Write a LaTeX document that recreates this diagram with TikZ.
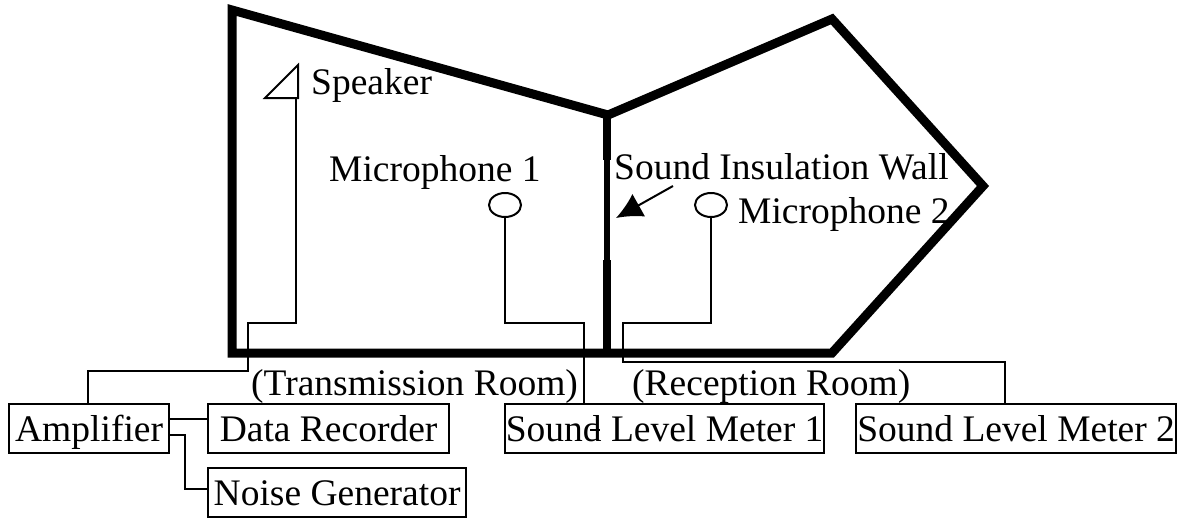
\documentclass[tikz,border=0pt]{standalone}
\usepackage{fontspec}
\setmainfont{Liberation Serif}
\tikzset{
 boxn/.style={draw,line width=2.2pt,inner sep=0pt,minimum height=49pt,anchor=north west,font=\fontsize{37.5}{40}\selectfont,text height=25pt,text depth=0pt},
 lab/.style={inner sep=0pt,anchor=base west,font=\fontsize{37.5}{40}\selectfont},
 wire/.style={line width=2pt,line join=miter},
 wall/.style={line width=9pt,line join=miter},
 mic/.style={draw,line width=2pt,ellipse,minimum width=32pt,minimum height=24pt,inner sep=0pt}
}
\usetikzlibrary{shapes.geometric,arrows.meta}
\begin{document}
\begin{tikzpicture}[x=1pt,y=-1pt]
\useasboundingbox (0,0) rectangle (1183,517);
% room outline
\coordinate (r1) at (232,10);
\coordinate (r2) at (608,115);
\coordinate (r3) at (832,19);
\coordinate (r4) at (983,186);
\coordinate (r5) at (832,353);
\coordinate (r6) at (232,353);
\coordinate (w1) at (607,160);
\coordinate (w2) at (607,260);
\coordinate (w3) at (607,353);
\draw[wall] (r1) -- (r2) -- (r3) -- (r4) -- (r5) -- (r6) -- cycle;
\draw[line width=8pt] (r2) ++(-1,0) -- (w1);
\draw[line width=5.5pt] (w1) -- (w2);
\draw[line width=8pt] (w2) -- (w3);
% boxes
\node[boxn,minimum width=160pt] (amp) at (8,403) {Amplifier};
\node[boxn,minimum width=241pt] (rec) at (207,403) {Data Recorder};
\node[boxn,minimum width=258pt] (noise) at (207,467) {Noise Generator};
\node[boxn,minimum width=319pt] (m1) at (504,403) {Sound Level Meter 1};
\node[boxn,minimum width=320pt] (m2) at (855,403) {Sound Level Meter 2};
% microphones
\node[mic] (mc1) at (505,205) {};
\node[mic] (mc2) at (711,205) {};
% speaker
\coordinate (s1) at (298,65);
\coordinate (s2) at (265,98);
\coordinate (s3) at (298,98);
\draw[wire] (s1) -- (s2) -- (s3) -- cycle;
\coordinate (sa) at (296,323);
\coordinate (sb) at (248,323);
\coordinate (sc) at (248,371);
\coordinate (sd) at (88,371);
\draw[wire] (296,98) -- (sa) -- (sb) -- (sc) -- (sd) -- (sd |- amp.north);
% mic wires
\coordinate (a1) at (505,323);
\coordinate (a2) at (584,323);
\draw[wire] (mc1.south) -- (a1) -- (a2) -- (a2 |- m1.north);
\coordinate (b1) at (711,323);
\coordinate (b2) at (623,323);
\coordinate (b3) at (623,362);
\coordinate (b4) at (1005,362);
\draw[wire] (mc2.south) -- (b1) -- (b2) -- (b3) -- (b4) -- (b4 |- m2.north);
% amp links
\coordinate (c1) at (168,419);
\draw[wire] (c1) -- (c1 -| rec.west);
\coordinate (d1) at (168,435);
\coordinate (d2) at (185,435);
\coordinate (d3) at (185,489);
\draw[wire] (d1) -- (d2) -- (d3) -- (d3 -| noise.west);
% stub
\coordinate (e1) at (590,430);
\coordinate (e2) at (600,430);
\draw[line width=2pt] (e1) -- (e2);
% arrow
\coordinate (f1) at (673,186);
\coordinate (f2) at (616,218);
\draw[line width=2pt,-{Latex[length=26pt,width=26pt]}] (f1) -- (f2);
% labels
\node[lab] (t1) at (311,94) {Speaker};
\node[lab] (t2) at (329,181) {Microphone 1};
\node[lab] (t3) at (614,179) {Sound Insulation Wall};
\node[lab] (t4) at (738,223) {Microphone 2};
\node[lab] (t5) at (251,395) {(Transmission Room)};
\node[lab] (t6) at (632,395) {(Reception Room)};
\end{tikzpicture}
\end{document}
